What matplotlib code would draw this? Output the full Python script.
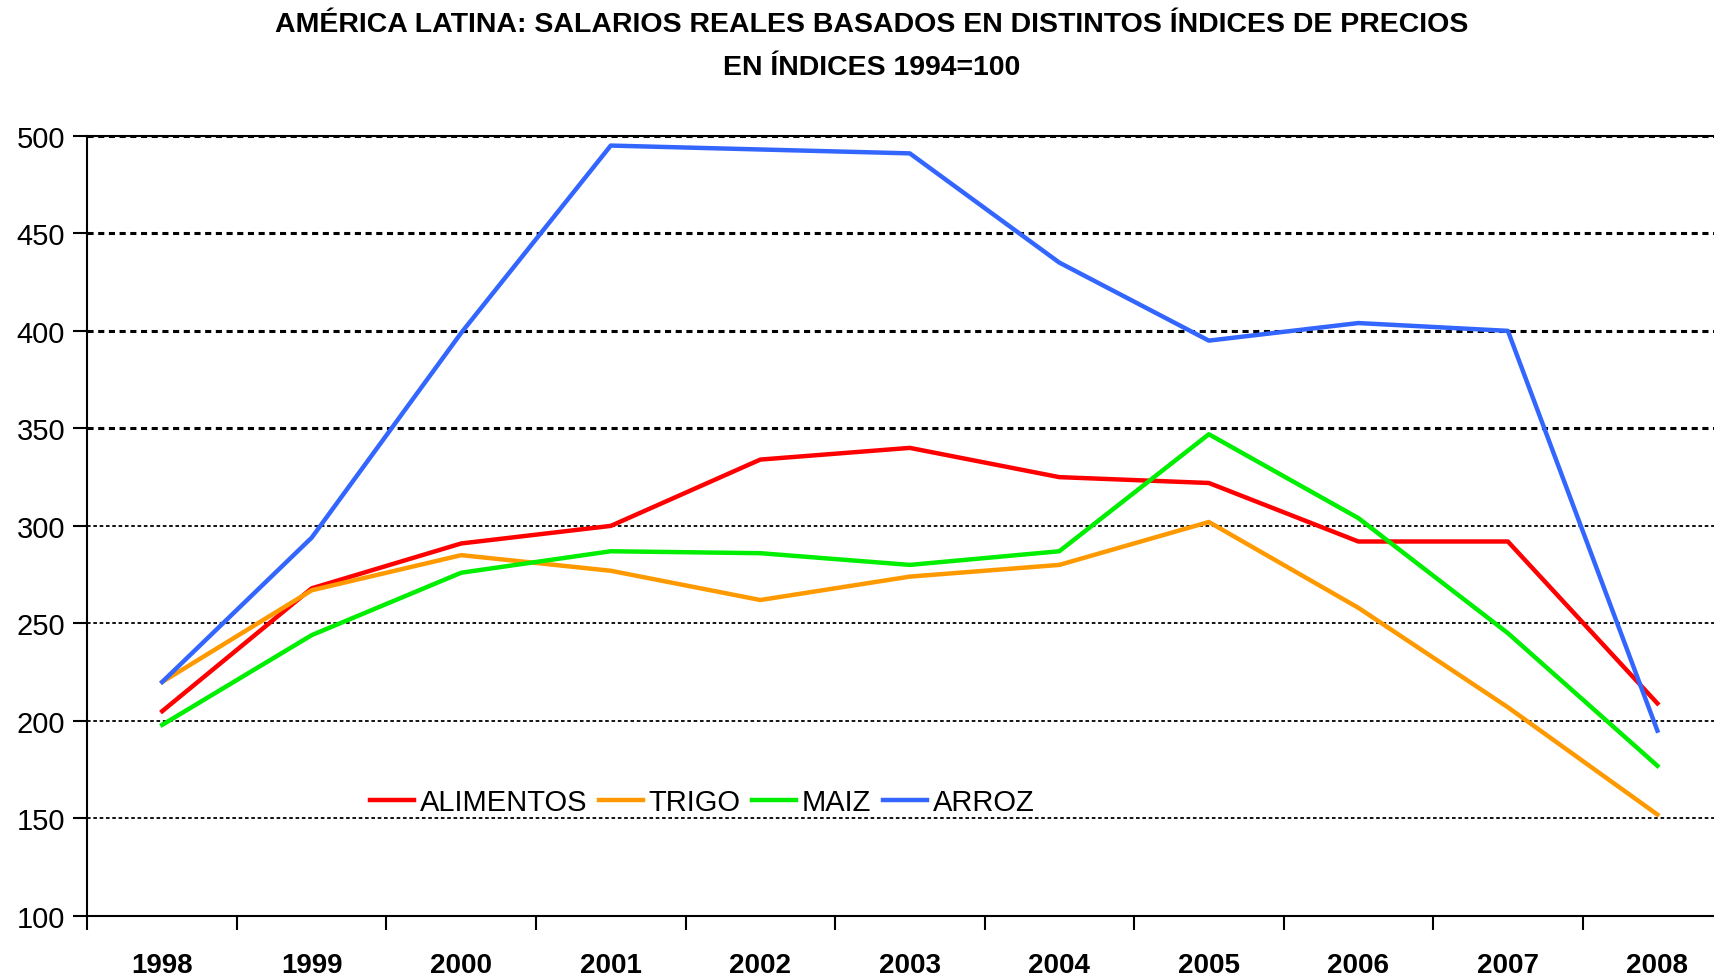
import matplotlib.pyplot as plt

# datos
anios = ["1998", "1999", "2000", "2001", "2002", "2003", "2004", "2005", "2006", "2007", "2008"]
alimentos = [205, 268, 291, 300, 334, 340, 325, 322, 292, 292, 209]
trigo = [220, 267, 285, 277, 262, 274, 280, 302, 258, 207, 152]
maiz = [198, 244, 276, 287, 286, 280, 287, 347, 304, 245, 177]
arroz = [220, 294, 399, 495, 493, 491, 435, 395, 404, 400, 195]

y_ticks = [100, 150, 200, 250, 300, 350, 400, 450, 500]

plt.rcParams['font.family'] = ['Liberation Sans', 'DejaVu Sans']

fig = plt.figure(figsize=(17.15, 9.78), dpi=100)
ax = fig.add_axes([0.051, 0.0624, 0.959, 0.7977])

x = list(range(len(anios)))
ax.plot(x, alimentos, color="#ff0000", linewidth=3.2, label="ALIMENTOS")
ax.plot(x, trigo, color="#ff9900", linewidth=3.2, label="TRIGO")
ax.plot(x, maiz, color="#00ee00", linewidth=3.2, label="MAIZ")
ax.plot(x, arroz, color="#3366ff", linewidth=3.2, label="ARROZ")

ax.set_xlim(-0.5, len(anios) - 0.5)
ax.set_ylim(100, 500)
ax.set_yticks(y_ticks)
ax.set_yticklabels([str(v) for v in y_ticks], fontsize=21)

# ticks del eje x entre categorias, etiquetas centradas
ax.set_xticks([i - 0.5 for i in range(len(anios) + 1)])
ax.set_xticklabels([])
ax.set_xticks(x, minor=True)
ax.set_xticklabels(anios, minor=True, fontsize=20, fontweight="bold")
ax.tick_params(axis="x", which="major", direction="out", length=10, width=1.5)
ax.tick_params(axis="x", which="minor", length=0, pad=26)
ax.tick_params(axis="y", direction="out", length=10, width=1.5, pad=6)

for v in y_ticks[1:]:
    ax.axhline(v, color="black", linewidth=2.2 if v >= 350 else 1.3,
               linestyle=(0, (2, 1.5)), zorder=0)

for s in ["left", "bottom", "top"]:
    ax.spines[s].set_linewidth(1.5)
ax.spines["right"].set_visible(False)

ax.legend(loc="upper left", bbox_to_anchor=(0.156, 0.198), ncol=4, frameon=False,
          fontsize=21, handlelength=1.5, handletextpad=0.2, columnspacing=0.4)

fig.text(0.508, 0.974, "AMÉRICA LATINA: SALARIOS REALES BASADOS EN DISTINTOS ÍNDICES DE PRECIOS",
         ha="center", va="center", fontsize=20.5, fontweight="bold")
fig.text(0.508, 0.930, "EN ÍNDICES 1994=100", ha="center", va="center", fontsize=20.5,
         fontweight="bold")

plt.savefig("out.png", dpi=100)
